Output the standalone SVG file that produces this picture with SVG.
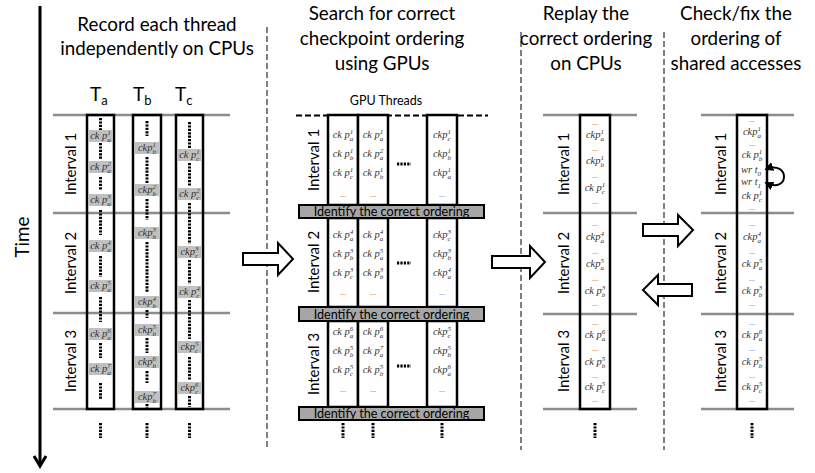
<svg xmlns="http://www.w3.org/2000/svg" width="815" height="473" viewBox="0 0 815 473">
<defs>
<style>
.ttl{font-family:Lato,"Liberation Sans",sans-serif;font-size:18.8px;fill:#000;text-anchor:middle}
.iv{font-family:Lato,"Liberation Sans",sans-serif;font-size:15px;fill:#000;text-anchor:middle}
.th{font-family:Lato,"Liberation Sans",sans-serif;font-size:19px;fill:#000}
.ths{font-size:13px}
.gl{stroke:#8c8c8c;stroke-width:2.5}
.col{fill:none;stroke:#000;stroke-width:2.5}
.colw{fill:#fff;stroke:#000;stroke-width:2.5}
.dot{stroke:#000;stroke-width:3;stroke-dasharray:2.2 1.2;fill:none}
.sep{stroke:#808080;stroke-width:2;stroke-dasharray:6 3}
.lb{fill:#c0c0c0}
.ck{font-family:"Liberation Serif",serif;font-style:italic;font-size:10.5px;fill:#333;text-anchor:middle}
.sp{font-size:7px}
.el{font-family:"Liberation Serif",serif;font-size:8px;fill:#555;text-anchor:middle}
.band{fill:#a6a6a6;stroke:#000;stroke-width:2}
.bt{font-family:Lato,"Liberation Sans",sans-serif;font-size:12.6px;fill:#000;text-anchor:middle}
.gt{font-family:Lato,"Liberation Sans",sans-serif;font-size:12.5px;fill:#000;text-anchor:middle}
.barrow{fill:#fff;stroke:#000;stroke-width:2}
</style>
<marker id="ah" viewBox="0 0 10 10" refX="8" refY="5" markerWidth="4.5" markerHeight="4.5" orient="auto-start-reverse"><path d="M0,0 L10,5 L0,10 z" fill="#000"/></marker>
</defs>
<rect width="815" height="473" fill="#fff"/>

<g id="time-axis">
<line x1="40" y1="6" x2="40" y2="464" stroke="#000" stroke-width="3"/>
<path d="M34,456 L40,466 L46,456" fill="none" stroke="#000" stroke-width="3"/>
<text class="ttl" transform="translate(22,237) rotate(-90)" y="7">Time</text>
</g>

<g id="separators">
<line class="sep" x1="267" y1="27" x2="267" y2="450"/>
<line class="sep" x1="521" y1="32" x2="521" y2="450"/>
<line class="sep" x1="664" y1="32" x2="664" y2="450"/>
</g>

<g id="titles">
<text class="ttl" x="157" y="31">Record each thread</text>
<text class="ttl" x="157" y="55">independently on CPUs</text>
<text class="ttl" x="382" y="20">Search for correct</text>
<text class="ttl" x="382" y="45">checkpoint ordering</text>
<text class="ttl" x="382" y="70">using GPUs</text>
<text class="ttl" x="586" y="20">Replay the</text>
<text class="ttl" x="586" y="45">correct ordering</text>
<text class="ttl" x="586" y="70">on CPUs</text>
<text class="ttl" x="736" y="20">Check/fix the</text>
<text class="ttl" x="736" y="45">ordering of</text>
<text class="ttl" x="736" y="70">shared accesses</text>
</g>

<!-- Panel 1: record -->
<g id="panel-record">
<line class="gl" x1="53" y1="115" x2="230" y2="115"/>
<line class="gl" x1="53" y1="213" x2="230" y2="213"/>
<line class="gl" x1="53" y1="313" x2="230" y2="313"/>
<line class="gl" x1="53" y1="409" x2="230" y2="409"/>
<text class="iv" transform="translate(70,164) rotate(-90)" y="5.5">Interval 1</text>
<text class="iv" transform="translate(70,263) rotate(-90)" y="5.5">Interval 2</text>
<text class="iv" transform="translate(70,361) rotate(-90)" y="5.5">Interval 3</text>

<g id="thread-a">
<text class="th" x="90" y="101">T<tspan class="ths" dy="4">a</tspan></text>
<rect class="col" x="87" y="115" width="27" height="294"/>
<path class="dot" d="M100.5,118V130M100.5,143V160M100.5,177V190M100.5,210V235M100.5,256V277M100.5,297V322M100.5,343V358M100.5,383V400"/>
<rect class="lb" x="88.5" y="130" width="24" height="12"/>
<rect class="lb" x="88.5" y="161" width="24" height="12"/>
<rect class="lb" x="88.5" y="194" width="24" height="12"/>
<rect class="lb" x="88.5" y="240" width="24" height="12"/>
<rect class="lb" x="88.5" y="280" width="24" height="12"/>
<rect class="lb" x="88.5" y="328" width="24" height="12"/>
<rect class="lb" x="88.5" y="363" width="24" height="12"/>
<text class="ck" x="100.5" y="139">ck p<tspan class="sp" dy="-4">1</tspan><tspan class="sp" dx="-3.5" dy="6.5">a</tspan></text>
<text class="ck" x="100.5" y="170">ck p<tspan class="sp" dy="-4">2</tspan><tspan class="sp" dx="-3.5" dy="6.5">a</tspan></text>
<text class="ck" x="100.5" y="203">ck p<tspan class="sp" dy="-4">3</tspan><tspan class="sp" dx="-3.5" dy="6.5">a</tspan></text>
<text class="ck" x="100.5" y="249">ck p<tspan class="sp" dy="-4">4</tspan><tspan class="sp" dx="-3.5" dy="6.5">a</tspan></text>
<text class="ck" x="100.5" y="289">ck p<tspan class="sp" dy="-4">5</tspan><tspan class="sp" dx="-3.5" dy="6.5">a</tspan></text>
<text class="ck" x="100.5" y="337">ck p<tspan class="sp" dy="-4">6</tspan><tspan class="sp" dx="-3.5" dy="6.5">a</tspan></text>
<text class="ck" x="100.5" y="372">ck p<tspan class="sp" dy="-4">7</tspan><tspan class="sp" dx="-3.5" dy="6.5">a</tspan></text>
<line class="dot" x1="100.5" y1="423" x2="100.5" y2="438"/>
</g>

<g id="thread-b">
<text class="th" x="133" y="101">T<tspan class="ths" dy="4">b</tspan></text>
<rect class="col" x="133" y="115" width="28" height="294"/>
<path class="dot" d="M147,121V136M147,157V183M147,199V220M147,242V293M147,310V318M147,338V353M147,371V383M147,404V408"/>
<rect class="lb" x="135" y="142" width="24" height="12"/>
<rect class="lb" x="135" y="184" width="24" height="12"/>
<rect class="lb" x="135" y="227" width="24" height="12"/>
<rect class="lb" x="135" y="296" width="24" height="12"/>
<rect class="lb" x="135" y="324" width="24" height="12"/>
<rect class="lb" x="135" y="356" width="24" height="12"/>
<rect class="lb" x="135" y="391" width="24" height="12"/>
<text class="ck" x="147" y="151">ckp<tspan class="sp" dy="-4">1</tspan><tspan class="sp" dx="-3.5" dy="6.5">b</tspan></text>
<text class="ck" x="147" y="193">ckp<tspan class="sp" dy="-4">2</tspan><tspan class="sp" dx="-3.5" dy="6.5">b</tspan></text>
<text class="ck" x="147" y="236">ckp<tspan class="sp" dy="-4">3</tspan><tspan class="sp" dx="-3.5" dy="6.5">b</tspan></text>
<text class="ck" x="147" y="305">ckp<tspan class="sp" dy="-4">4</tspan><tspan class="sp" dx="-3.5" dy="6.5">b</tspan></text>
<text class="ck" x="147" y="333">ckp<tspan class="sp" dy="-4">5</tspan><tspan class="sp" dx="-3.5" dy="6.5">b</tspan></text>
<text class="ck" x="147" y="365">ckp<tspan class="sp" dy="-4">6</tspan><tspan class="sp" dx="-3.5" dy="6.5">b</tspan></text>
<text class="ck" x="147" y="400">ckp<tspan class="sp" dy="-4">7</tspan><tspan class="sp" dx="-3.5" dy="6.5">b</tspan></text>
<line class="dot" x1="147" y1="423" x2="147" y2="438"/>
</g>

<g id="thread-c">
<text class="th" x="175" y="101">T<tspan class="ths" dy="4">c</tspan></text>
<rect class="col" x="176" y="115" width="27" height="294"/>
<path class="dot" d="M189.5,122V148M189.5,163V186M189.5,203V244M189.5,260V284M189.5,300V339M189.5,357V380M189.5,396V407"/>
<rect class="lb" x="177.5" y="149" width="24" height="12"/>
<rect class="lb" x="177.5" y="188" width="24" height="12"/>
<rect class="lb" x="177.5" y="246" width="24" height="12"/>
<rect class="lb" x="177.5" y="286" width="24" height="12"/>
<rect class="lb" x="177.5" y="341" width="24" height="12"/>
<rect class="lb" x="177.5" y="382" width="24" height="12"/>
<text class="ck" x="189.5" y="158">ck p<tspan class="sp" dy="-4">1</tspan><tspan class="sp" dx="-3.5" dy="6.5">c</tspan></text>
<text class="ck" x="189.5" y="197">ck p<tspan class="sp" dy="-4">2</tspan><tspan class="sp" dx="-3.5" dy="6.5">c</tspan></text>
<text class="ck" x="189.5" y="255">ckp<tspan class="sp" dy="-4">3</tspan><tspan class="sp" dx="-3.5" dy="6.5">c</tspan></text>
<text class="ck" x="189.5" y="295">ck p<tspan class="sp" dy="-4">4</tspan><tspan class="sp" dx="-3.5" dy="6.5">c</tspan></text>
<text class="ck" x="189.5" y="350">ckp<tspan class="sp" dy="-4">5</tspan><tspan class="sp" dx="-3.5" dy="6.5">c</tspan></text>
<text class="ck" x="189.5" y="391">ckp<tspan class="sp" dy="-4">6</tspan><tspan class="sp" dx="-3.5" dy="6.5">c</tspan></text>
<line class="dot" x1="189.5" y1="423" x2="189.5" y2="438"/>
</g>
</g>

<!-- Panel 2: GPU search -->
<g id="panel-search">
<text class="gt" x="386" y="105">GPU Threads</text>
<line x1="296" y1="115.5" x2="488" y2="115.5" stroke="#000" stroke-width="2" stroke-dasharray="6 3"/>
<text class="iv" transform="translate(313,160) rotate(-90)" y="5.5">Interval 1</text>
<text class="iv" transform="translate(313,262) rotate(-90)" y="5.5">Interval 2</text>
<text class="iv" transform="translate(313,364) rotate(-90)" y="5.5">Interval 3</text>

<g id="gpu-interval-1">
<rect class="colw" x="328" y="115" width="30" height="90"/>
<rect class="colw" x="358" y="115" width="30" height="90"/>
<rect class="colw" x="427" y="115" width="30" height="90"/>
<line class="dot" x1="397" y1="164" x2="411" y2="164"/>
<text class="ck" x="343" y="138">ck p<tspan class="sp" dy="-4">1</tspan><tspan class="sp" dx="-3.5" dy="6.5">a</tspan></text>
<text class="ck" x="343" y="157">ck p<tspan class="sp" dy="-4">1</tspan><tspan class="sp" dx="-3.5" dy="6.5">b</tspan></text>
<text class="ck" x="343" y="176">ck p<tspan class="sp" dy="-4">1</tspan><tspan class="sp" dx="-3.5" dy="6.5">c</tspan></text>
<text class="el" x="343" y="197">...</text>
<text class="ck" x="373" y="138">ck p<tspan class="sp" dy="-4">1</tspan><tspan class="sp" dx="-3.5" dy="6.5">a</tspan></text>
<text class="ck" x="373" y="157">ck p<tspan class="sp" dy="-4">2</tspan><tspan class="sp" dx="-3.5" dy="6.5">a</tspan></text>
<text class="ck" x="373" y="176">ck p<tspan class="sp" dy="-4">1</tspan><tspan class="sp" dx="-3.5" dy="6.5">b</tspan></text>
<text class="el" x="373" y="197">...</text>
<text class="ck" x="442" y="138">ckp<tspan class="sp" dy="-4">1</tspan><tspan class="sp" dx="-3.5" dy="6.5">c</tspan></text>
<text class="ck" x="442" y="157">ckp<tspan class="sp" dy="-4">1</tspan><tspan class="sp" dx="-3.5" dy="6.5">b</tspan></text>
<text class="ck" x="442" y="176">ckp<tspan class="sp" dy="-4">1</tspan><tspan class="sp" dx="-3.5" dy="6.5">a</tspan></text>
<text class="el" x="442" y="197">...</text>
</g>

<g id="gpu-interval-2">
<rect class="colw" x="328" y="218" width="30" height="89"/>
<rect class="colw" x="358" y="218" width="30" height="89"/>
<rect class="colw" x="427" y="218" width="30" height="89"/>
<line class="dot" x1="397" y1="263" x2="411" y2="263"/>
<text class="ck" x="343" y="238">ck p<tspan class="sp" dy="-4">4</tspan><tspan class="sp" dx="-3.5" dy="6.5">a</tspan></text>
<text class="ck" x="343" y="257">ck p<tspan class="sp" dy="-4">3</tspan><tspan class="sp" dx="-3.5" dy="6.5">b</tspan></text>
<text class="ck" x="343" y="276">ck p<tspan class="sp" dy="-4">3</tspan><tspan class="sp" dx="-3.5" dy="6.5">c</tspan></text>
<text class="el" x="343" y="295">...</text>
<text class="ck" x="373" y="238">ck p<tspan class="sp" dy="-4">4</tspan><tspan class="sp" dx="-3.5" dy="6.5">a</tspan></text>
<text class="ck" x="373" y="257">ck p<tspan class="sp" dy="-4">5</tspan><tspan class="sp" dx="-3.5" dy="6.5">a</tspan></text>
<text class="ck" x="373" y="276">ck p<tspan class="sp" dy="-4">3</tspan><tspan class="sp" dx="-3.5" dy="6.5">b</tspan></text>
<text class="el" x="373" y="295">...</text>
<text class="ck" x="442" y="238">ckp<tspan class="sp" dy="-4">3</tspan><tspan class="sp" dx="-3.5" dy="6.5">c</tspan></text>
<text class="ck" x="442" y="257">ckp<tspan class="sp" dy="-4">3</tspan><tspan class="sp" dx="-3.5" dy="6.5">b</tspan></text>
<text class="ck" x="442" y="276">ckp<tspan class="sp" dy="-4">4</tspan><tspan class="sp" dx="-3.5" dy="6.5">a</tspan></text>
<text class="el" x="442" y="295">...</text>
</g>

<g id="gpu-interval-3">
<rect class="colw" x="328" y="321" width="30" height="86"/>
<rect class="colw" x="358" y="321" width="30" height="86"/>
<rect class="colw" x="427" y="321" width="30" height="86"/>
<line class="dot" x1="397" y1="366" x2="411" y2="366"/>
<text class="ck" x="343" y="335">ck p<tspan class="sp" dy="-4">6</tspan><tspan class="sp" dx="-3.5" dy="6.5">a</tspan></text>
<text class="ck" x="343" y="354">ck p<tspan class="sp" dy="-4">5</tspan><tspan class="sp" dx="-3.5" dy="6.5">b</tspan></text>
<text class="ck" x="343" y="373">ck p<tspan class="sp" dy="-4">5</tspan><tspan class="sp" dx="-3.5" dy="6.5">c</tspan></text>
<text class="el" x="343" y="392">...</text>
<text class="ck" x="373" y="335">ck p<tspan class="sp" dy="-4">6</tspan><tspan class="sp" dx="-3.5" dy="6.5">a</tspan></text>
<text class="ck" x="373" y="354">ck p<tspan class="sp" dy="-4">7</tspan><tspan class="sp" dx="-3.5" dy="6.5">a</tspan></text>
<text class="ck" x="373" y="373">ck p<tspan class="sp" dy="-4">5</tspan><tspan class="sp" dx="-3.5" dy="6.5">b</tspan></text>
<text class="el" x="373" y="392">...</text>
<text class="ck" x="442" y="335">ckp<tspan class="sp" dy="-4">5</tspan><tspan class="sp" dx="-3.5" dy="6.5">c</tspan></text>
<text class="ck" x="442" y="354">ckp<tspan class="sp" dy="-4">5</tspan><tspan class="sp" dx="-3.5" dy="6.5">b</tspan></text>
<text class="ck" x="442" y="373">ckp<tspan class="sp" dy="-4">6</tspan><tspan class="sp" dx="-3.5" dy="6.5">a</tspan></text>
<text class="el" x="442" y="392">...</text>
</g>

<g id="identify-1">
<rect class="band" x="299" y="205" width="185" height="13"/>
<text class="bt" x="391.5" y="216">Identify the correct ordering</text>
</g>
<g id="identify-2">
<rect class="band" x="299" y="307" width="185" height="14"/>
<text class="bt" x="391.5" y="318.5">Identify the correct ordering</text>
</g>
<g id="identify-3">
<rect class="band" x="299" y="407" width="185" height="13"/>
<text class="bt" x="391.5" y="418">Identify the correct ordering</text>
</g>
<path class="dot" d="M343,423V438M373,423V438M442,423V438"/>
</g>

<!-- Panel 3: replay -->
<g id="panel-replay">
<line class="gl" x1="543" y1="115" x2="637" y2="115"/>
<line class="gl" x1="543" y1="213" x2="637" y2="213"/>
<line class="gl" x1="543" y1="314" x2="637" y2="314"/>
<line class="gl" x1="543" y1="409" x2="637" y2="409"/>
<text class="iv" transform="translate(563,164) rotate(-90)" y="5.5">Interval 1</text>
<text class="iv" transform="translate(563,263) rotate(-90)" y="5.5">Interval 2</text>
<text class="iv" transform="translate(563,361) rotate(-90)" y="5.5">Interval 3</text>
<rect class="col" x="580" y="115" width="30" height="294"/>
<text class="el" x="595" y="125">...</text>
<text class="ck" x="595" y="138">ckp<tspan class="sp" dy="-4">1</tspan><tspan class="sp" dx="-3.5" dy="6.5">a</tspan></text>
<text class="el" x="595" y="151">...</text>
<text class="ck" x="595" y="164">ckp<tspan class="sp" dy="-4">1</tspan><tspan class="sp" dx="-3.5" dy="6.5">b</tspan></text>
<text class="el" x="595" y="178">...</text>
<text class="ck" x="595" y="191">ck p<tspan class="sp" dy="-4">1</tspan><tspan class="sp" dx="-3.5" dy="6.5">c</tspan></text>
<text class="el" x="595" y="204">...</text>
<text class="el" x="595" y="226">...</text>
<text class="ck" x="595" y="240">ckp<tspan class="sp" dy="-4">4</tspan><tspan class="sp" dx="-3.5" dy="6.5">a</tspan></text>
<text class="el" x="595" y="254">...</text>
<text class="ck" x="595" y="267">ckp<tspan class="sp" dy="-4">5</tspan><tspan class="sp" dx="-3.5" dy="6.5">a</tspan></text>
<text class="el" x="595" y="281">...</text>
<text class="ck" x="595" y="294">ck p<tspan class="sp" dy="-4">3</tspan><tspan class="sp" dx="-3.5" dy="6.5">b</tspan></text>
<text class="el" x="595" y="306">...</text>
<text class="el" x="595" y="325">...</text>
<text class="ck" x="595" y="338">ck p<tspan class="sp" dy="-4">6</tspan><tspan class="sp" dx="-3.5" dy="6.5">a</tspan></text>
<text class="el" x="595" y="351">...</text>
<text class="ck" x="595" y="365">ck p<tspan class="sp" dy="-4">5</tspan><tspan class="sp" dx="-3.5" dy="6.5">b</tspan></text>
<text class="el" x="595" y="378">...</text>
<text class="ck" x="595" y="390">ck p<tspan class="sp" dy="-4">5</tspan><tspan class="sp" dx="-3.5" dy="6.5">c</tspan></text>
<text class="el" x="595" y="402">...</text>
<line class="dot" x1="595" y1="423" x2="595" y2="438"/>
</g>

<!-- Panel 4: check/fix -->
<g id="panel-check">
<line class="gl" x1="701" y1="115" x2="794" y2="115"/>
<line class="gl" x1="701" y1="213" x2="794" y2="213"/>
<line class="gl" x1="701" y1="314" x2="794" y2="314"/>
<line class="gl" x1="701" y1="409" x2="794" y2="409"/>
<text class="iv" transform="translate(720,164) rotate(-90)" y="5.5">Interval 1</text>
<text class="iv" transform="translate(720,263) rotate(-90)" y="5.5">Interval 2</text>
<text class="iv" transform="translate(720,361) rotate(-90)" y="5.5">Interval 3</text>
<rect class="col" x="737" y="115" width="30" height="294"/>
<text class="el" x="752" y="122">...</text>
<text class="ck" x="752" y="135">ckp<tspan class="sp" dy="-4">1</tspan><tspan class="sp" dx="-3.5" dy="6.5">a</tspan></text>
<text class="el" x="752" y="146">...</text>
<text class="ck" x="752" y="158">ck p<tspan class="sp" dy="-4">1</tspan><tspan class="sp" dx="-3.5" dy="6.5">b</tspan></text>
<text class="ck" x="751" y="173">wr t<tspan class="sp" dy="2.5">0</tspan></text>
<text class="ck" x="751" y="185">wr t<tspan class="sp" dy="2.5">1</tspan></text>
<text class="ck" x="752" y="199">ck p<tspan class="sp" dy="-4">1</tspan><tspan class="sp" dx="-3.5" dy="6.5">c</tspan></text>
<text class="el" x="752" y="210">...</text>
<text class="el" x="752" y="226">...</text>
<text class="ck" x="752" y="240">ckp<tspan class="sp" dy="-4">4</tspan><tspan class="sp" dx="-3.5" dy="6.5">a</tspan></text>
<text class="el" x="752" y="254">...</text>
<text class="ck" x="752" y="267">ck p<tspan class="sp" dy="-4">5</tspan><tspan class="sp" dx="-3.5" dy="6.5">a</tspan></text>
<text class="el" x="752" y="281">...</text>
<text class="ck" x="752" y="294">ck p<tspan class="sp" dy="-4">3</tspan><tspan class="sp" dx="-3.5" dy="6.5">b</tspan></text>
<text class="el" x="752" y="306">...</text>
<text class="el" x="752" y="325">...</text>
<text class="ck" x="752" y="338">ck p<tspan class="sp" dy="-4">6</tspan><tspan class="sp" dx="-3.5" dy="6.5">a</tspan></text>
<text class="el" x="752" y="351">...</text>
<text class="ck" x="752" y="365">ck p<tspan class="sp" dy="-4">5</tspan><tspan class="sp" dx="-3.5" dy="6.5">b</tspan></text>
<text class="el" x="752" y="378">...</text>
<text class="ck" x="752" y="390">ck p<tspan class="sp" dy="-4">5</tspan><tspan class="sp" dx="-3.5" dy="6.5">c</tspan></text>
<text class="el" x="752" y="402">...</text>
<line class="dot" x1="752" y1="423" x2="752" y2="438"/>
</g>

<g id="connectors">
<polygon class="barrow" points="243,253 278,253 278,243 293,259 278,275 278,265 243,265"/>
<polygon class="barrow" points="492,256 530,256 530,246 545,262 530,278 530,268 492,268"/>
<polygon class="barrow" points="643,224 678,224 678,215 693,230 678,246 678,236 643,236"/>
<polygon class="barrow" points="692,284 658,284 658,275 643,290 658,305 658,296 692,296"/>
<path d="M766,169 C790,160 790,194 766,183" fill="none" stroke="#000" stroke-width="2" marker-start="url(#ah)" marker-end="url(#ah)"/>
</g>
</svg>
